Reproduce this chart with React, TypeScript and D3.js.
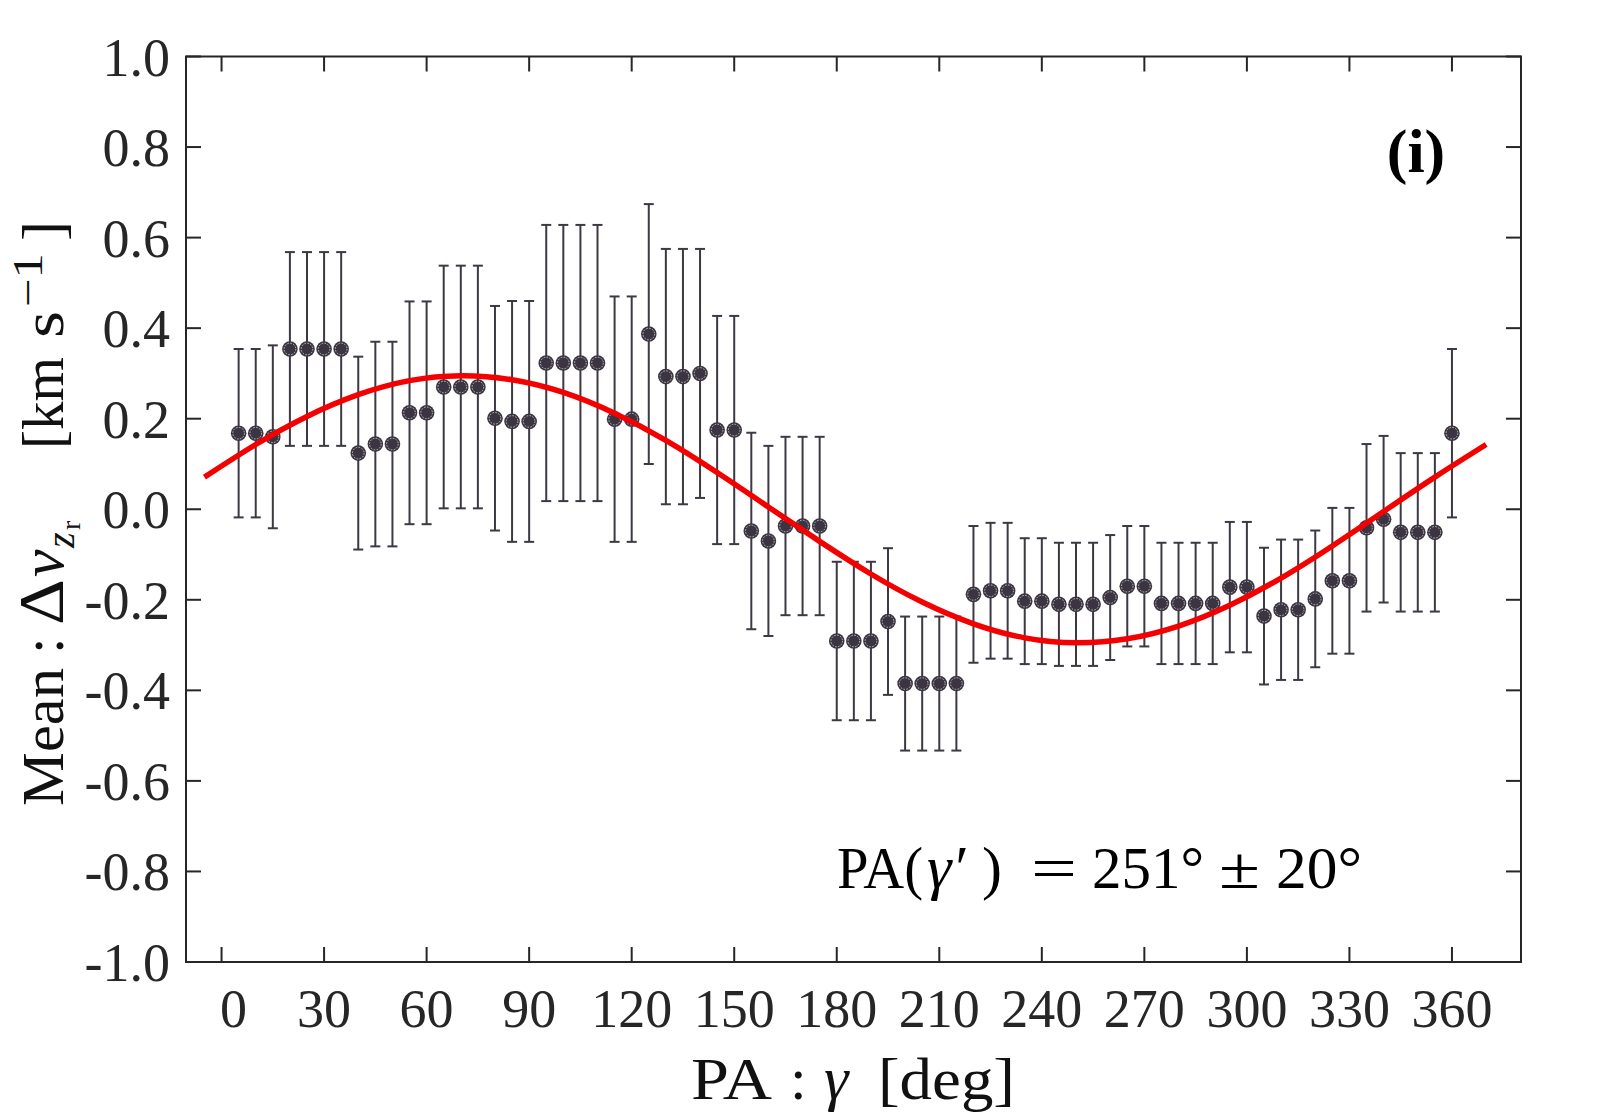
import * as d3 from 'd3';

// position angle of each bin [deg]
const paDeg = [
  5, 10, 15, 20, 25, 30, 35, 40, 45, 50,
  55, 60, 65, 70, 75, 80, 85, 90, 95, 100,
  105, 110, 115, 120, 125, 130, 135, 140, 145, 150,
  155, 160, 165, 170, 175, 180, 185, 190, 195, 200,
  205, 210, 215, 220, 225, 230, 235, 240, 245, 250,
  255, 260, 265, 270, 275, 280, 285, 290, 295, 300,
  305, 310, 315, 320, 325, 330, 335, 340, 345, 350,
  355, 360,
];

// mean delta v [km/s]
const meanVals = [
  0.168, 0.168, 0.16, 0.354, 0.354, 0.354, 0.354, 0.124, 0.144, 0.144,
  0.213, 0.213, 0.27, 0.27, 0.27, 0.201, 0.194, 0.194, 0.323, 0.323,
  0.323, 0.323, 0.199, 0.199, 0.387, 0.293, 0.293, 0.3, 0.175, 0.175,
  -0.048, -0.07, -0.037, -0.037, -0.037, -0.291, -0.291, -0.291, -0.248, -0.385,
  -0.385, -0.385, -0.385, -0.188, -0.18, -0.18, -0.203, -0.203, -0.21, -0.21,
  -0.21, -0.195, -0.17, -0.17, -0.208, -0.208, -0.208, -0.208, -0.172, -0.172,
  -0.236, -0.222, -0.222, -0.198, -0.158, -0.158, -0.041, -0.022, -0.051, -0.051,
  -0.051, 0.168,
];

// error bar half-length
const errVals = [
  0.186, 0.186, 0.202, 0.214, 0.214, 0.214, 0.214, 0.213, 0.226, 0.226,
  0.246, 0.246, 0.268, 0.268, 0.268, 0.248, 0.266, 0.266, 0.305, 0.305,
  0.305, 0.305, 0.271, 0.271, 0.287, 0.282, 0.282, 0.275, 0.252, 0.252,
  0.217, 0.21, 0.197, 0.197, 0.197, 0.175, 0.175, 0.175, 0.162, 0.148,
  0.148, 0.148, 0.148, 0.151, 0.15, 0.15, 0.139, 0.139, 0.136, 0.136,
  0.136, 0.138, 0.133, 0.133, 0.134, 0.134, 0.134, 0.134, 0.144, 0.144,
  0.151, 0.155, 0.155, 0.151, 0.161, 0.161, 0.185, 0.184, 0.175, 0.175,
  0.175, 0.186,
];

// red fitted curve
const fitDeg = [-5, 10, 25, 40, 55, 70, 85, 100, 115, 130, 145, 160, 175, 190, 205, 220, 235, 250, 265, 280, 295, 310, 325, 340, 355, 370];
const fitVals = [
  0.071, 0.143, 0.205, 0.253, 0.284, 0.295, 0.286, 0.258, 0.212, 0.152, 0.081, 0.005, -0.071,
  -0.143, -0.205, -0.253, -0.284, -0.295, -0.286, -0.258, -0.212, -0.152, -0.081, -0.005, 0.071, 0.143,
];

const xTicks = [0, 30, 60, 90, 120, 150, 180, 210, 240, 270, 300, 330, 360];
const yTicks = [-1.0, -0.8, -0.6, -0.4, -0.2, 0.0, 0.2, 0.4, 0.6, 0.8, 1.0];

const W = 1600;
const H = 1120;
const left = 186;
const right = 1521;
const top = 56.5;
const bottom = 962;
const font = '"Liberation Serif", "Times New Roman", serif';
const axisColor = '#262626';
const markColor = '#3b3541';

export default function App() {
  const x = d3.scaleLinear().domain([-10.4, 380.2]).range([left, right]);
  const y = d3.scaleLinear().domain([-1, 1]).range([bottom, top]);

  const line = d3
    .line<number>()
    .x((_, i) => x(fitDeg[i]))
    .y((d) => y(d))
    .curve(d3.curveNatural);

  const tickLen = 15;
  const cap = 5;
  const fit = 'spacingAndGlyphs';

  return (
    <svg
      width={W}
      height={H}
      style={{ position: 'absolute', left: 0, top: 0, background: '#fff' }}
      fontFamily={font}
    >
      {/* error bars */}
      <g stroke="#3d3843" strokeWidth={2}>
        {paDeg.map((p, i) => {
          const cx = x(p);
          const y1 = y(meanVals[i] + errVals[i]);
          const y2 = y(meanVals[i] - errVals[i]);
          return (
            <g key={p}>
              <line x1={cx} x2={cx} y1={y1} y2={y2} />
              <line x1={cx - cap} x2={cx + cap} y1={y1} y2={y1} />
              <line x1={cx - cap} x2={cx + cap} y1={y2} y2={y2} />
            </g>
          );
        })}
      </g>

      {/* markers */}
      <g>
        {paDeg.map((p, i) => (
          <g key={p}>
            <circle cx={x(p)} cy={y(meanVals[i])} r={7.8} fill={markColor} />
            <circle
              cx={x(p)}
              cy={y(meanVals[i])}
              r={5.8}
              fill="none"
              stroke="#c9c5cc"
              strokeWidth={0.9}
              strokeDasharray="1.6 1.4"
            />
          </g>
        ))}
      </g>

      {/* fit */}
      <path d={line(fitVals) ?? ''} fill="none" stroke="#f50000" strokeWidth={5.5} />

      {/* frame + ticks */}
      <rect x={left} y={top} width={right - left} height={bottom - top} fill="none" stroke={axisColor} strokeWidth={2} />
      <g stroke={axisColor} strokeWidth={2}>
        {xTicks.map((t) => (
          <g key={t}>
            <line x1={x(t)} x2={x(t)} y1={bottom} y2={bottom - tickLen} />
            <line x1={x(t)} x2={x(t)} y1={top} y2={top + tickLen} />
          </g>
        ))}
        {yTicks.map((t) => (
          <g key={t}>
            <line x1={left} x2={left + tickLen} y1={y(t)} y2={y(t)} />
            <line x1={right} x2={right - tickLen} y1={y(t)} y2={y(t)} />
          </g>
        ))}
      </g>

      {/* tick labels */}
      <g fill={axisColor} fontSize={54}>
        {xTicks.map((t) => (
          <text key={t} x={x(t) + (t === 0 ? 12 : 0)} y={1027} textAnchor="middle">
            {t}
          </text>
        ))}
        {yTicks.map((t) => (
          <text key={t} x={170} y={y(t) + 19} textAnchor="end">
            {t.toFixed(1)}
          </text>
        ))}
      </g>

      {/* x axis label */}
      <g fontSize={60} fill="#111">
        <text x={691} y={1099} textLength={81} lengthAdjust={fit}>PA</text>
        <text x={790} y={1099}>:</text>
        <text x={824} y={1099} fontStyle="italic" fontSize={62}>γ</text>
        <text x={878} y={1099} textLength={137} lengthAdjust={fit}>[deg]</text>
      </g>

      {/* y axis label, rotated */}
      <g transform="translate(63, 0) rotate(-90)" fill="#111">
        <text x={-806} y={0} fontSize={60} textLength={138} lengthAdjust={fit}>Mean</text>
        <text x={-654} y={0} fontSize={60}>:</text>
        <text x={-625} y={0} fontSize={64} textLength={46} lengthAdjust={fit}>Δ</text>
        <text x={-577} y={0} fontSize={62} fontStyle="italic">v</text>
        <text x={-548} y={11} fontSize={40} fontStyle="italic">z</text>
        <text x={-530} y={17} fontSize={28}>r</text>
        <text x={-449} y={0} fontSize={60} textLength={92} lengthAdjust={fit}>[km</text>
        <text x={-338} y={0} fontSize={60} textLength={27} lengthAdjust={fit}>s</text>
        <text x={-307} y={-21} fontSize={42} textLength={54} lengthAdjust={fit}>−1</text>
        <text x={-241} y={0} fontSize={60}>]</text>
      </g>

      {/* annotations */}
      <g fontSize={60} fill="#000">
        <text x={837} y={888} textLength={86} lengthAdjust={fit}>PA(</text>
        <text x={927} y={888} fontStyle="italic" fontSize={62}>γ′</text>
        <text x={982} y={888}>)</text>
        <text x={1031} y={888} textLength={46} lengthAdjust={fit}>=</text>
        <text x={1092} y={888} textLength={112} lengthAdjust={fit}>251°</text>
        <text x={1219} y={888} textLength={41} lengthAdjust={fit}>±</text>
        <text x={1276} y={888} textLength={86} lengthAdjust={fit}>20°</text>
      </g>
      <text x={1416} y={172} textAnchor="middle" fontSize={62} fontWeight="bold" fill="#000">
        (i)
      </text>
    </svg>
  );
}
